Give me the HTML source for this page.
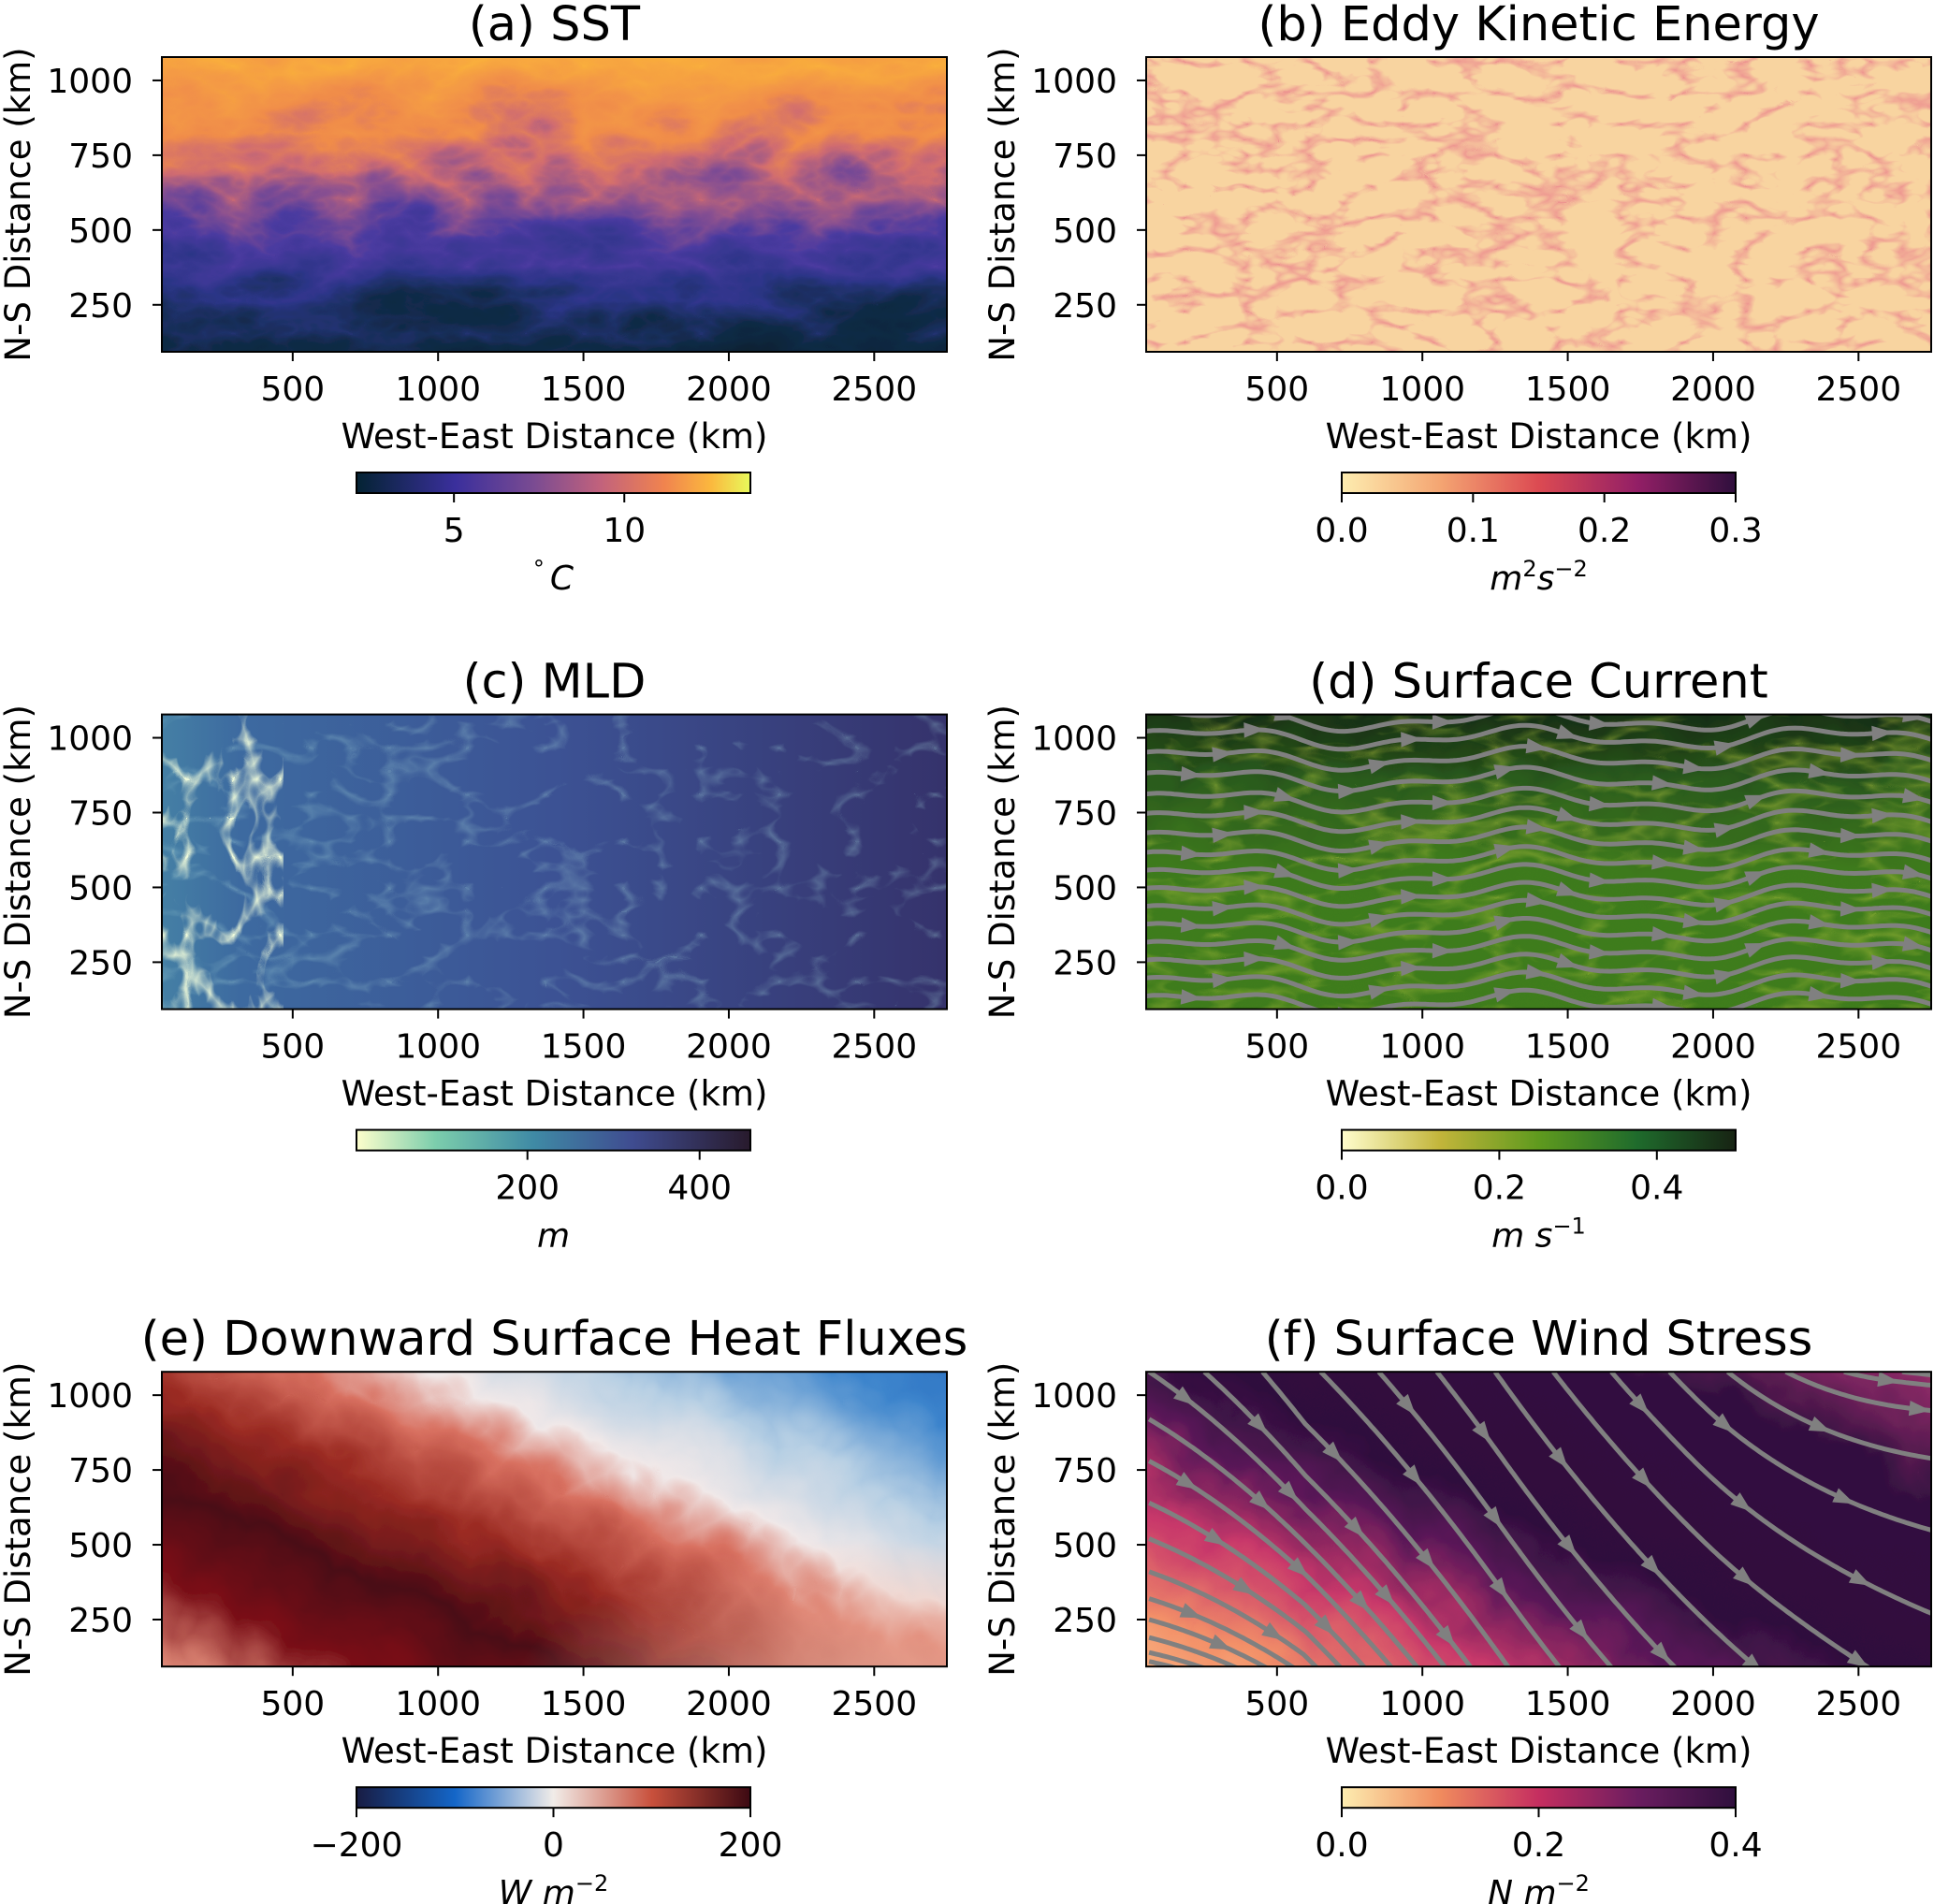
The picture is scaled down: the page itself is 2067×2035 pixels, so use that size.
<!DOCTYPE html>
<html><head><meta charset="utf-8">
<style>
html,body{margin:0;padding:0;background:#fff;}
svg{display:block;font-family:"DejaVu Sans","Liberation Sans",sans-serif;}
</style></head>
<body>
<svg id="fig" width="2067" height="2035" viewBox="0 0 2067 2035" xmlns="http://www.w3.org/2000/svg">
<defs>
  <linearGradient id="gSST" x1="0" y1="1" x2="0" y2="0">
    <stop offset="0" stop-color="#08202f"/><stop offset="0.22" stop-color="#0f2a45"/>
    <stop offset="0.36" stop-color="#2c3588"/><stop offset="0.47" stop-color="#4a3aa0"/>
    <stop offset="0.56" stop-color="#8a5090"/><stop offset="0.65" stop-color="#d06c70"/>
    <stop offset="0.75" stop-color="#f08c4a"/><stop offset="1" stop-color="#fbb43a"/>
  </linearGradient>
  <linearGradient id="cSST" x1="0" x2="1"><stop offset="0" stop-color="#042333"/><stop offset="0.25" stop-color="#3a2f9c"/><stop offset="0.45" stop-color="#7a4b92"/><stop offset="0.62" stop-color="#c2627c"/><stop offset="0.78" stop-color="#f0834f"/><stop offset="0.9" stop-color="#fbb83e"/><stop offset="1" stop-color="#e8fa5b"/></linearGradient>
  <linearGradient id="cEKE" x1="0" x2="1"><stop offset="0" stop-color="#fdedb0"/><stop offset="0.25" stop-color="#f4a572"/><stop offset="0.5" stop-color="#dc4a52"/><stop offset="0.75" stop-color="#931f66"/><stop offset="1" stop-color="#2f0f3d"/></linearGradient>
  <linearGradient id="cMLD" x1="0" x2="1"><stop offset="0" stop-color="#fdfecc"/><stop offset="0.2" stop-color="#7cceac"/><stop offset="0.45" stop-color="#3f8aa5"/><stop offset="0.7" stop-color="#3f4c90"/><stop offset="1" stop-color="#281a2c"/></linearGradient>
  <linearGradient id="cSPD" x1="0" x2="1"><stop offset="0" stop-color="#fffdcd"/><stop offset="0.25" stop-color="#c2b53a"/><stop offset="0.5" stop-color="#5f9a1e"/><stop offset="0.75" stop-color="#1f6b2c"/><stop offset="1" stop-color="#172313"/></linearGradient>
  <linearGradient id="cBAL" x1="0" x2="1"><stop offset="0" stop-color="#181c43"/><stop offset="0.25" stop-color="#1466c8"/><stop offset="0.5" stop-color="#f1ece8"/><stop offset="0.75" stop-color="#c8503c"/><stop offset="1" stop-color="#3c0912"/></linearGradient>
  <linearGradient id="cTAU" x1="0" x2="1"><stop offset="0" stop-color="#fdedb0"/><stop offset="0.25" stop-color="#f08b5e"/><stop offset="0.5" stop-color="#c52e60"/><stop offset="0.75" stop-color="#6b1d60"/><stop offset="1" stop-color="#2f0f3d"/></linearGradient>
  <linearGradient id="gMLD" x1="0" y1="0" x2="1" y2="0">
    <stop offset="0" stop-color="#4a8fa8"/><stop offset="0.15" stop-color="#3d6aa0"/><stop offset="0.5" stop-color="#3c5294"/><stop offset="1" stop-color="#342e66"/>
  </linearGradient>
  <linearGradient id="gSPD" x1="0" y1="0" x2="0" y2="1">
    <stop offset="0" stop-color="#b8b050"/><stop offset="0.1" stop-color="#162c12"/><stop offset="0.28" stop-color="#2a5a1c"/><stop offset="0.5" stop-color="#3e7a1e"/><stop offset="1" stop-color="#3f7e1c"/>
  </linearGradient>
  <linearGradient id="gHF" x1="0" y1="1" x2="1" y2="0">
    <stop offset="0" stop-color="#f2e4df"/><stop offset="0.12" stop-color="#d88070"/><stop offset="0.22" stop-color="#7a1018"/><stop offset="0.33" stop-color="#4a0a14"/><stop offset="0.45" stop-color="#9a2a22"/><stop offset="0.55" stop-color="#d87060"/><stop offset="0.62" stop-color="#f0e8e8"/><stop offset="0.72" stop-color="#b8d0e4"/><stop offset="0.85" stop-color="#3c84cc"/><stop offset="1" stop-color="#2060b8"/>
  </linearGradient>
  <radialGradient id="gHF2" cx="0.85" cy="0.95" r="0.4"><stop offset="0" stop-color="#eeb3a0" stop-opacity="0.9"/><stop offset="1" stop-color="#eeb3a0" stop-opacity="0"/></radialGradient>
  <linearGradient id="gTAU" x1="0" y1="1" x2="1" y2="0">
    <stop offset="0" stop-color="#fcc890"/><stop offset="0.17" stop-color="#f39068"/><stop offset="0.3" stop-color="#c8386a"/><stop offset="0.41" stop-color="#5a1858"/><stop offset="0.5" stop-color="#2f0f3d"/><stop offset="0.75" stop-color="#331040"/><stop offset="0.88" stop-color="#8a2a66"/><stop offset="1" stop-color="#e8715a"/>
  </linearGradient>
  <filter id="swirl" x="0" y="0" width="1" height="1">
    <feTurbulence type="turbulence" baseFrequency="0.008 0.014" numOctaves="4" seed="3"/>
    <feDisplacementMap in="SourceGraphic" scale="110" xChannelSelector="R" yChannelSelector="G"/>
  </filter>
  <filter id="swirl2" x="0" y="0" width="1" height="1">
    <feTurbulence type="turbulence" baseFrequency="0.01" numOctaves="3" seed="7"/>
    <feDisplacementMap in="SourceGraphic" scale="50" xChannelSelector="R" yChannelSelector="G"/>
  </filter>
  <filter id="streaksRed" x="0" y="0" width="1" height="1">
    <feTurbulence type="turbulence" baseFrequency="0.015 0.03" numOctaves="3" seed="11"/>
    <feColorMatrix type="matrix" values="0 0 0 0 0.85  0 0 0 0 0.3  0 0 0 0 0.28  -4 0 0 0 1.0"/>
  </filter>
  <filter id="streaksGreen" x="0" y="0" width="1" height="1">
    <feTurbulence type="turbulence" baseFrequency="0.01 0.025" numOctaves="3" seed="5"/>
    <feColorMatrix type="matrix" values="0 0 0 0 0.45  0 0 0 0 0.55  0 0 0 0 0.05  -3 0 0 0 0.8"/>
  </filter>
  <filter id="streaksLight" x="0" y="0" width="1" height="1">
    <feTurbulence type="turbulence" baseFrequency="0.02 0.012" numOctaves="3" seed="2"/>
    <feColorMatrix type="matrix" values="0 0 0 0 0.85  0 0 0 0 0.95  0 0 0 0 0.7  -4 0 0 0 1.0"/>
  </filter>
  <filter id="streaksMld" x="0" y="0" width="1" height="1">
    <feTurbulence type="turbulence" baseFrequency="0.012 0.02" numOctaves="3" seed="9"/>
    <feColorMatrix type="matrix" values="0 0 0 0 0.3  0 0 0 0 0.55  0 0 0 0 0.62  -3 0 0 0 0.6"/>
  </filter>
</defs>
<g id="root"></g>
</svg>
<script>
const NS="http://www.w3.org/2000/svg";
const root=document.getElementById('root');
const xDomain=[50,2750];
const yDomain=[93,1078];
const xTicks=[500,1000,1500,2000,2500];
const yTicks=[250,500,750,1000];
const titles=["(a) SST","(b) Eddy Kinetic Energy","(c) MLD","(d) Surface Current","(e) Downward Surface Heat Fluxes","(f) Surface Wind Stress"];
const cbRanges=[[2.14,13.7],[0,0.3],[1.4,459],[0,0.5],[-200,200],[0,0.4]];
const cbTicks=[[5,10],[0.0,0.1,0.2,0.3],[200,400],[0.0,0.2,0.4],[-200,0,200],[0.0,0.2,0.4]];
const cbTickLabels=[["5","10"],["0.0","0.1","0.2","0.3"],["200","400"],["0.0","0.2","0.4"],["\u2212200","0","200"],["0.0","0.2","0.4"]];
const cbGrads=["cSST","cEKE","cMLD","cSPD","cBAL","cTAU"];
const cbUnits=[["°","C",""],["m","2","s","\u22122"],["m"],["m s","\u22121"],["W m","\u22122"],["N m","\u22122"]];
const dSeedsY=[115,175,235,295,355,415,475,535,595,660,725,790,860,930,1000,1060];
const fSeeds=[[60,1078],[250,1078],[450,1078],[650,1078],[850,1078],[1050,1078],[1250,1078],[1450,1078],[1650,1078],[1850,1078],[2050,1078],[2250,1078],[2450,1078],[2650,1078],[2750,1020],[2750,940],[2750,860],[2750,780],[2750,700],[60,920],[60,780],[60,640],[60,520],[60,410],[60,320],[60,250],[60,190],[60,140],[60,110]];

function el(tag,attrs,parent){const e=document.createElementNS(NS,tag);for(const k in attrs)e.setAttribute(k,attrs[k]);(parent||root).appendChild(e);return e;}
const AX={w:839,h:315};
function panel(i){const col=i%2,row=Math.floor(i/2);return {x0:col?1225:173,y0:61+row*702.6,cbx:col?1434:381,row:row};}

for(let i=0;i<6;i++){
  const p=panel(i);
  const sx=v=>p.x0+(v-xDomain[0])/(xDomain[1]-xDomain[0])*AX.w;
  const sy=v=>p.y0+(yDomain[1]-v)/(yDomain[1]-yDomain[0])*AX.h;
  const g=el('g',{});
  
  
  const cp=el('clipPath',{id:'clip'+i},g);
  el('rect',{x:p.x0,y:p.y0,width:AX.w,height:AX.h},cp);
  const img=el('g',{'clip-path':'url(#clip'+i+')'},g);
  
  
  const R={x:p.x0-60,y:p.y0-60,width:AX.w+120,height:AX.h+120};
  if(i===0){el('rect',Object.assign({fill:'url(#gSST)',filter:'url(#swirl)'},R),img);}
  if(i===1){el('rect',Object.assign({fill:'#f8d4a0'},R),img);el('rect',Object.assign({filter:'url(#streaksRed)',opacity:1},R),img);}
  if(i===2){el('rect',Object.assign({fill:'url(#gMLD)'},R),img);el('rect',Object.assign({filter:'url(#streaksMld)',opacity:0.6},R),img);
    const c2=el('clipPath',{id:'clipL'},g);el('rect',{x:p.x0,y:p.y0,width:130,height:AX.h},c2);
    const lc=el('g',{'clip-path':'url(#clipL)'},img);el('rect',Object.assign({filter:'url(#streaksLight)'},R),lc);}
  if(i===3){el('rect',Object.assign({fill:'url(#gSPD)',filter:'url(#swirl2)'},R),img);el('rect',Object.assign({filter:'url(#streaksGreen)',opacity:0.55},R),img);}
  if(i===4){el('rect',Object.assign({fill:'url(#gHF)',filter:'url(#swirl2)'},R),img);el('rect',Object.assign({fill:'url(#gHF2)'},R),img);}
  if(i===5){el('rect',Object.assign({fill:'url(#gTAU)',filter:'url(#swirl2)'},R),img);}
  if(i===3||i===5){
    const sl=el('g',{'clip-path':'url(#clip'+i+')',stroke:'#808080','stroke-width':5,fill:'none'},g);
    
    
    const seeds=i===3?dSeedsY.map(y=>[50,y]):fSeeds;
    seeds.forEach((s,k)=>{
      let x=s[0],y=s[1];const pts=[];
      if(i===3){
        for(let xx=50;xx<=2760;xx+=12){const yy=s[1]+28*Math.sin(xx/170)+14*Math.sin(xx/70+1);pts.push([sx(xx),sy(yy)]);}
      } else {
        for(let n=0;n<500;n++){
          pts.push([sx(x),sy(y)]);
          const t=(x-50)/2700, ny=(y-93)/985;
          let slope=-(1.2*(1-Math.abs(t-0.45)*1.3)+0.15);
          if(t<0.2) slope*= (0.3+0.7*ny+t*2);
          if(t>0.7) slope*= Math.max(0.2,1-(t-0.7)*2.2*ny*1.5);
          slope=Math.min(slope,-0.05);
          const ang=Math.atan(slope);
          x+=12*Math.cos(ang);y+=12*Math.sin(ang);
          if(x>2760||y<80)break;
        }
      }
      if(pts.length<2)return;
      const path=el('path',{d:'M'+pts.map(q=>q[0].toFixed(1)+','+q[1].toFixed(1)).join('L')},sl);
      
      
      const step=i===3?45:40;
      for(let m=12+(k%4)*9;m<pts.length-1;m+=step){
        const a=pts[m],b=pts[m+1];const an=Math.atan2(b[1]-a[1],b[0]-a[0]);
        const s2=11;
        const tri=el('polygon',{points:[[a[0]+s2*1.4*Math.cos(an),a[1]+s2*1.4*Math.sin(an)],[a[0]+s2*Math.cos(an+2.3),a[1]+s2*Math.sin(an+2.3)],[a[0]+s2*Math.cos(an-2.3),a[1]+s2*Math.sin(an-2.3)]].map(q=>q.join(',')).join(' '),fill:'#808080',stroke:'none'},sl);
        
        
      }
    });
  }
  const fr=el('rect',{x:p.x0,y:p.y0,width:AX.w,height:AX.h,fill:'none',stroke:'#000','stroke-width':2},g);
  
  
  xTicks.forEach(v=>{
    el('line',{x1:sx(v),x2:sx(v),y1:p.y0+AX.h,y2:p.y0+AX.h+10,stroke:'#000','stroke-width':2},g);
    const t=el('text',{x:sx(v),y:p.y0+AX.h+52,'font-size':36,'text-anchor':'middle'},g);t.textContent=v;
    
    
  });
  yTicks.forEach(v=>{
    el('line',{x1:p.x0-10,x2:p.x0,y1:sy(v),y2:sy(v),stroke:'#000','stroke-width':2},g);
    const t=el('text',{x:p.x0-31,y:sy(v)+13,'font-size':36,'text-anchor':'end'},g);t.textContent=v;
    
    
  });
  const tt=el('text',{x:p.x0+AX.w/2,y:p.y0-18,'font-size':51,'text-anchor':'middle'},g);tt.textContent=titles[i];
  
  
  const xl=el('text',{x:p.x0+AX.w/2,y:p.y0+AX.h+103,'font-size':37,'text-anchor':'middle'},g);xl.textContent='West-East Distance (km)';
  
  
  const yx=p.x0-141,yy=p.y0+AX.h/2;
  const yl=el('text',{x:yx,y:yy,'font-size':37,'text-anchor':'middle',transform:'rotate(-90 '+yx+' '+yy+')'},g);yl.textContent='N-S Distance (km)';
  
  
  const cby=505+p.row*702.6,cbw=421,cbh=22;
  const cb=el('rect',{x:p.cbx,y:cby,width:cbw,height:cbh,fill:'url(#'+cbGrads[i]+')',stroke:'#000','stroke-width':2},g);
  
  
  const rg=cbRanges[i];
  cbTicks[i].forEach((v,k)=>{
    const x=p.cbx+(v-rg[0])/(rg[1]-rg[0])*cbw;
    el('line',{x1:x,x2:x,y1:cby+cbh,y2:cby+cbh+10,stroke:'#000','stroke-width':2},g);
    const t=el('text',{x:x,y:cby+74,'font-size':36,'text-anchor':'middle'},g);t.textContent=cbTickLabels[i][k];
    
    
  });
  const ul=el('text',{x:p.cbx+cbw/2,y:cby+125,'font-size':36,'text-anchor':'middle','font-style':'italic'},g);
  
  
  const u=cbUnits[i];
  if(i===0){const a=el('tspan',{dy:-14,'font-size':24,'font-style':'normal'},ul);a.textContent='°';const b=el('tspan',{dy:14,dx:6},ul);b.textContent='C';}
  else if(i===1){let a=el('tspan',{},ul);a.textContent='m';a=el('tspan',{dy:-14,'font-size':24,'font-style':'normal'},ul);a.textContent='2';a=el('tspan',{dy:14},ul);a.textContent='s';a=el('tspan',{dy:-14,'font-size':24,'font-style':'normal'},ul);a.textContent='\u22122';}
  else if(i===2){ul.textContent='m';}
  else {let a=el('tspan',{},ul);a.textContent=u[0];a=el('tspan',{dy:-14,'font-size':24,'font-style':'normal'},ul);a.textContent=u[1];}
}
</script>
</body></html>
